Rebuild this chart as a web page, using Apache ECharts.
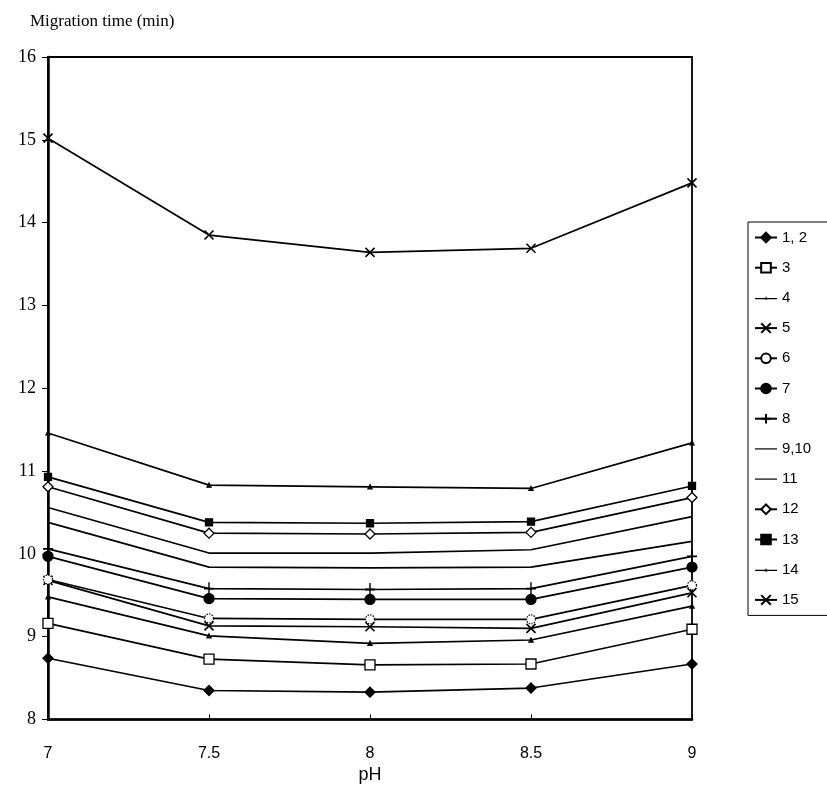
<!DOCTYPE html>
<html>
<head>
<meta charset="utf-8">
<script src="https://cdn.jsdelivr.net/npm/echarts@6/dist/echarts.min.js"></script>
<style>
  html, body { margin: 0; padding: 0; background: #fff; }
  #chart { width: 827px; height: 809px; }
</style>
</head>
<body>
<div id="chart"></div>
<script>
// pH values on the x axis
const phValues = [7, 7.5, 8, 8.5, 9];
const xTicks = ['7', '7.5', '8', '8.5', '9'];

// Migration times (min) for each analyte peak
const peak1_2 = [8.74, 8.35, 8.33, 8.38, 8.67];
const peak3 = [9.16, 8.73, 8.66, 8.67, 9.09];
const peak4 = [9.48, 9.01, 8.92, 8.96, 9.37];
const peak5 = [9.68, 9.13, 9.12, 9.10, 9.53];
const peak6 = [9.69, 9.22, 9.21, 9.21, 9.62];
const peak7 = [9.97, 9.46, 9.45, 9.45, 9.84];
const peak8 = [10.06, 9.58, 9.57, 9.58, 9.97];
const peak9_10 = [10.38, 9.84, 9.83, 9.84, 10.15];
const peak11 = [10.56, 10.01, 10.01, 10.05, 10.45];
const peak12 = [10.81, 10.25, 10.24, 10.26, 10.68];
const peak13 = [10.93, 10.38, 10.37, 10.39, 10.82];
const peak14 = [11.46, 10.83, 10.81, 10.79, 11.34];
const peak15 = [15.02, 13.85, 13.64, 13.69, 14.48];

const seriesNames = ['1, 2', '3', '4', '5', '6', '7', '8', '9,10', '11', '12', '13', '14', '15'];
const seriesValues = [peak1_2, peak3, peak4, peak5, peak6, peak7, peak8, peak9_10, peak11, peak12, peak13, peak14, peak15];

const CROSS = 'path://M0,0L10,10M10,0L0,10';
const PLUS = 'path://M5,0L5,12M0,6L10,6';
// legend icons for plain lines and for the tiny triangle markers
const LINE_ICON = 'path://M0,5.4H22V6.6H0Z';
const TRI_ICON = 'path://M0,5.4H22V6.6H0Z M9.5,7L11,3.6L12.5,7Z';

// marker style per series
const markers = [
  { symbol: 'diamond', size: 10, fill: '#000' },
  { symbol: 'rect', size: 10, fill: '#fff' },
  { symbol: 'triangle', size: 4, fill: '#000', icon: TRI_ICON },
  { symbol: CROSS, size: 9, fill: 'none', stroke: true },
  { symbol: 'circle', size: 9, fill: '#fff', dotted: true },
  { symbol: 'circle', size: 10, fill: '#000' },
  { symbol: PLUS, size: [10, 13], fill: 'none', stroke: true },
  { symbol: 'none', size: 0, icon: LINE_ICON },
  { symbol: 'none', size: 0, icon: LINE_ICON },
  { symbol: 'diamond', size: 10, fill: '#fff' },
  { symbol: 'rect', size: 7, fill: '#000' },
  { symbol: 'triangle', size: 4, fill: '#000', icon: TRI_ICON },
  { symbol: CROSS, size: 9, fill: 'none', stroke: true }
];

const series = seriesNames.map((name, i) => {
  const m = markers[i];
  return {
    name: name,
    type: 'line',
    data: phValues.map((x, j) => [x, seriesValues[i][j]]),
    symbol: m.symbol,
    symbolSize: m.size,
    showSymbol: m.symbol !== 'none',
    lineStyle: { color: '#000', width: 1.7 },
    itemStyle: {
      color: m.fill === undefined ? '#000' : m.fill,
      borderColor: '#000',
      borderWidth: m.stroke ? 1.6 : 1.3,
      borderType: m.dotted ? 'dotted' : 'solid'
    },
    emphasis: { disabled: true },
    animation: false,
    z: 3
  };
});

const legendData = seriesNames.map((name, i) => {
  const m = markers[i];
  if (m.icon) {
    return { name: name, icon: m.icon, itemStyle: { color: '#000', borderWidth: 0 } };
  }
  return { name: name };
});

const chart = echarts.init(document.getElementById('chart'), null, { renderer: 'canvas' });
chart.setOption({
  backgroundColor: '#fff',
  animation: false,
  grid: {
    left: 48, right: 135, top: 57, bottom: 89.5,
    show: true, borderColor: '#000', borderWidth: 1.8, backgroundColor: 'transparent'
  },
  legend: {
    orient: 'vertical',
    left: 748,
    top: 222,
    itemWidth: 22,
    itemHeight: 12,
    itemGap: 15.2,
    padding: [8, 40, 8, 6],
    borderColor: '#000',
    borderWidth: 1,
    textStyle: { fontFamily: 'Liberation Sans, Arial, sans-serif', fontSize: 15, color: '#000' },
    data: legendData
  },
  xAxis: {
    type: 'value',
    min: 7, max: 9, interval: 0.5,
    name: 'pH',
    nameLocation: 'middle',
    nameGap: 44,
    nameTextStyle: { fontFamily: 'Liberation Sans, Arial, sans-serif', fontSize: 18, color: '#000' },
    axisLine: { lineStyle: { color: '#000', width: 2.5 } },
    axisTick: { inside: true, length: 5, lineStyle: { color: '#000', width: 1 } },
    axisLabel: {
      margin: 26,
      fontFamily: 'Liberation Sans Narrow, Liberation Sans, Arial, sans-serif',
      fontSize: 16, color: '#000',
      formatter: v => xTicks[phValues.indexOf(v)] ?? ''
    },
    splitLine: { show: false }
  },
  yAxis: {
    type: 'value',
    min: 8, max: 16, interval: 1,
    name: 'Migration time (min)',
    nameLocation: 'end',
    nameGap: 27,
    nameTextStyle: {
      fontFamily: 'Liberation Serif, Times New Roman, serif', fontSize: 17, color: '#000',
      align: 'left', padding: [0, 0, 0, -18]
    },
    axisLine: { lineStyle: { color: '#000', width: 2.5 } },
    axisTick: { length: 6, lineStyle: { color: '#000', width: 1 } },
    axisLabel: {
      margin: 12,
      fontFamily: 'Liberation Serif, Times New Roman, serif',
      fontSize: 18, color: '#000'
    },
    splitLine: { show: false }
  },
  series: series
});
</script>
</body>
</html>
